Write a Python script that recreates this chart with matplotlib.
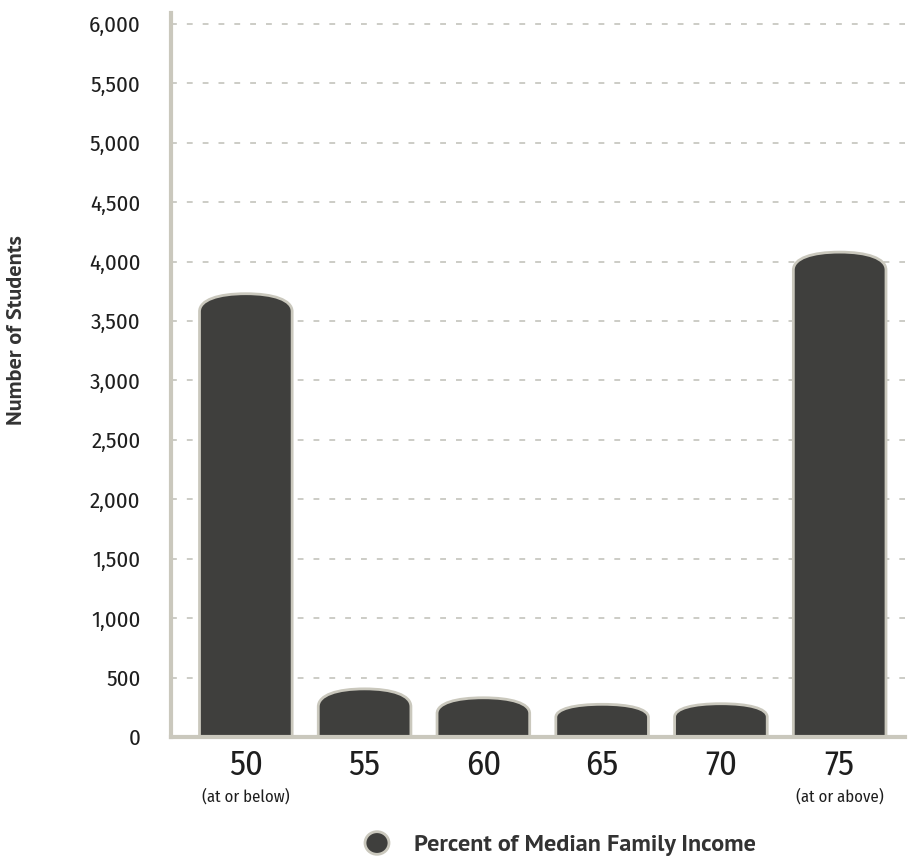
import matplotlib
matplotlib.use("Agg")
import matplotlib.pyplot as plt
from matplotlib.path import Path
from matplotlib.patches import PathPatch, Circle
from matplotlib import font_manager

names = {f.name for f in font_manager.fontManager.ttflist}


def pick(prefs, default="DejaVu Sans"):
    for p in prefs:
        if p in names:
            return p
    return default


NARROW = pick(["Fira Sans Condensed", "PT Sans Narrow", "Roboto Condensed", "Open Sans Condensed",
               "Asap Condensed", "Encode Sans Condensed", "Archivo Narrow", "Liberation Sans Narrow"])
BOLDF = pick(["PT Sans", "Fira Sans", "Open Sans"])

categories = ["50", "55", "60", "65", "70", "75"]
sublabels = ["(at or below)", "", "", "", "", "(at or above)"]
values = [3730, 405, 330, 275, 280, 4080]
yticks = [0, 500, 1000, 1500, 2000, 2500, 3000, 3500, 4000, 4500, 5000, 5500, 6000]
ylabel = "Number of Students"
legend_label = "Percent of Median Family Income"

BAR = "#3f3f3d"
EDGE = "#cac8bd"
GRID = "#c4c4bc"
TXT = "#1e1e1e"

fig = plt.figure(figsize=(9.11, 8.59), dpi=100)
W, H = 911, 859
ax_left, ax_right = 171, 905
ax_bottom, ax_top = 737, 13
ax = fig.add_axes([ax_left / W, (H - ax_bottom) / H, (ax_right - ax_left) / W, (ax_bottom - ax_top) / H])
ax.set_ylim(0, 6092)
ax.set_xlim(-0.63, 5.55)

for t in yticks[1:]:
    ax.axhline(t, color=GRID, lw=1.2, ls=(0, (3.5, 6)), zorder=1)

w = 0.78
for i, v in enumerate(values):
    x0, x1, xc = i - w / 2, i + w / 2, i
    h = min(150, v * 0.4)
    verts = [(x0, 0), (x0, v - h),
             (x0, v - 0.35 * h), (x0 + 0.2 * w, v), (xc, v),
             (x1 - 0.2 * w, v), (x1, v - 0.35 * h), (x1, v - h),
             (x1, 0), (x0, 0)]
    codes = [Path.MOVETO, Path.LINETO,
             Path.CURVE4, Path.CURVE4, Path.CURVE4,
             Path.CURVE4, Path.CURVE4, Path.CURVE4,
             Path.LINETO, Path.CLOSEPOLY]
    ax.add_patch(PathPatch(Path(verts, codes), facecolor=BAR, edgecolor=EDGE, lw=2, zorder=3))

for s in ["top", "right"]:
    ax.spines[s].set_visible(False)
ax.spines["left"].set_color(EDGE)
ax.spines["left"].set_linewidth(3)
ax.spines["bottom"].set_color(EDGE)
ax.spines["bottom"].set_linewidth(3)
ax.spines["bottom"].set_zorder(4)

ax.set_yticks(yticks)
ax.set_yticklabels([f"{t:,}" for t in yticks], fontsize=16.5, family=NARROW, color=TXT)
ax.tick_params(axis="y", length=0, pad=22)
for lbl in ax.get_yticklabels():
    lbl.set_va("center_baseline")
ax.set_xticks(range(len(categories)))
ax.set_xticklabels(categories, fontsize=25, family=NARROW, color=TXT)
ax.tick_params(axis="x", length=0, pad=8)

for i, s in enumerate(sublabels):
    if s:
        ax.text(i, -0.071, s, transform=ax.get_xaxis_transform(), ha="center", va="top",
                fontsize=12, family=NARROW, color=TXT)

fig.text(17 / W, 1 - 330 / H, ylabel, rotation=90, ha="center", va="center",
         fontsize=16, fontweight="bold", color="#333333", family=BOLDF)

fig.patches.append(Circle((377 / W, 1 - 843 / H), radius=12 / W, transform=fig.transFigure,
                          facecolor=BAR, edgecolor=EDGE, lw=2, figure=fig))
fig.text(414 / W, 1 - 845 / H, legend_label, ha="left", va="center",
         fontsize=17.5, fontweight="bold", color="#333333", family=BOLDF)

fig.savefig("out.png", dpi=100)
